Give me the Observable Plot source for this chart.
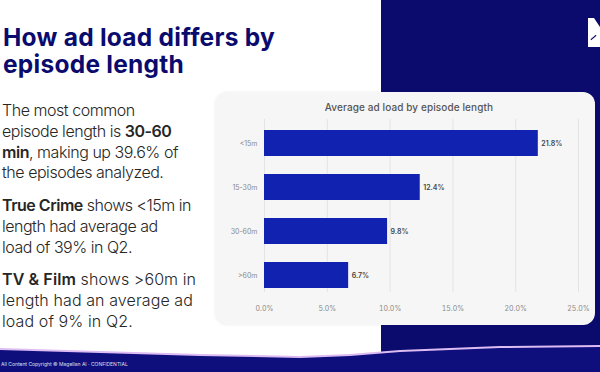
<!DOCTYPE html>
<html><head><meta charset="utf-8">
<script src="https://cdn.jsdelivr.net/npm/d3@7"></script>
<script src="https://cdn.jsdelivr.net/npm/@observablehq/plot@0.6"></script>
<style>
html,body{margin:0;padding:0;background:#fff;}
#page{position:relative;width:600px;height:372px;overflow:hidden;background:#fff;font-family:Inter,"Open Sans",sans-serif;}
.abs{position:absolute;}
#navy{left:381px;top:0;width:219px;height:362px;background:#0b0b6d;}
#logoA{left:588px;top:18px;width:6px;height:29px;background:#fff;}
#logoB{left:588px;top:18px;width:12px;height:29px;background:#fff;clip-path:polygon(0 0,6px 0,12px 9px,12px 29px,4px 29px,4px 8px);}
#logoC{left:590px;top:37px;width:7px;height:1px;background:#0b0b6d;transform:rotate(-40deg);}
#band2{left:0;top:330px;width:600px;height:42px;background:#dcbcf2;clip-path:polygon(0 18px,100px 21px,200px 24px,300px 26px,350px 24px,400px 20px,500px 16px,600px 15px,600px 42px,0 42px);}
#band{left:0;top:330px;width:600px;height:42px;background:#0e0f7c;clip-path:polygon(0 20px,100px 23px,200px 26px,300px 28px,350px 26px,400px 22px,500px 18px,600px 17px,600px 42px,0 42px);}
#foot{left:1px;top:361px;color:#fff;font-size:5px;white-space:nowrap;opacity:.85;}
#card{left:215px;top:92px;width:380px;height:233px;background:#f6f6f6;border-radius:12px;box-shadow:0 0 3px rgba(0,0,0,.06);}
#ctitle{left:215px;top:101px;width:388px;text-align:center;color:#555;font-size:10px;font-weight:500;white-space:nowrap;letter-spacing:0.1px;}
#chart{left:215px;top:92px;}
.ln{position:absolute;left:0;white-space:nowrap;line-height:1;}
.bl{display:inline-block;width:0;height:0;}
.blk{position:absolute;left:2px;top:0;}
b{font-weight:600;}
</style></head>
<body>
<div id="page">
  <div id="navy" class="abs"></div>
  <div id="logoA" class="abs"></div>
  <div id="logoB" class="abs"></div>
  <div id="logoC" class="abs"></div>
  <div id="band2" class="abs"></div>
  <div id="band" class="abs"></div>
  <div id="foot" class="abs">All Content Copyright © Magellan AI · CONFIDENTIAL</div>
  <div id="card" class="abs"></div>
  <div id="ctitle" class="abs">Average ad load by episode length</div>
  <div id="chart" class="abs"></div>
</div>
<script>
const categories = ["<15m", "15-30m", "30-60m", ">60m"];
const values = [21.8, 12.4, 9.8, 6.7];
const xTicks = [0, 5, 10, 15, 20, 25];
const fmt = d => d.toFixed(1) + "%";
const data = categories.map((c, i) => ({cat: c, value: values[i]}));

const chart = Plot.plot({
  width: 380, height: 233,
  marginLeft: 49, marginRight: 17, marginTop: 27, marginBottom: 33,
  style: {background: "transparent", fontFamily: "Inter, sans-serif", fontSize: "7px", color: "#8a8a8a", overflow: "visible"},
  x: {domain: [0, 25], ticks: xTicks, tickFormat: fmt},
  y: {domain: categories, range: [19, 215], padding: 0.41},
  marks: [
    Plot.gridX(xTicks, {stroke: "#e4e4e4", strokeOpacity: 1}),
    Plot.axisX(xTicks, {tickSize: 0, tickPadding: 14, tickFormat: fmt, label: null}),
    Plot.axisY({tickSize: 0, tickPadding: 7, label: null}),
    Plot.barX(data, {x: "value", y: "cat", fill: "#1222b0"}),
    Plot.text(data, {x: "value", y: "cat", text: d => fmt(d.value), textAnchor: "start", dx: 3, fill: "#444", fontWeight: 600})
  ]
});
document.getElementById("chart").appendChild(chart);

// Text blocks: fixed font size, width matched with letter-spacing
const blocks = [
  {lines: ["How ad load differs by", "episode length"], baselines: [46, 73], ref: 0, w: 272, style: "color:#0b0b6e;font-weight:700;font-size:24.5px;left:3px"},
  {lines: ["The most common", "episode length is <b>30-60</b>", "<b>min</b>, making up 39.6% of", "the episodes analyzed."], baselines: [116, 137, 157.5, 178], ref: 2, w: 176, style: "color:#262626;font-weight:300;font-size:16px"},
  {lines: ["<b>True Crime</b> shows &lt;15m in", "length had average ad", "load of 39% in Q2."], baselines: [210.7, 231.7, 252.7], ref: 0, w: 189, style: "color:#262626;font-weight:300;font-size:16px"},
  {lines: ["<b>TV &amp; Film</b> shows &gt;60m in", "length had an average ad", "load of 9% in Q2."], baselines: [285, 306, 327], ref: 1, w: 191, style: "color:#262626;font-weight:300;font-size:16px"}
];
const page = document.getElementById("page");
for (const b of blocks) {
  const el = document.createElement("div");
  el.className = "blk";
  el.style.cssText += b.style;
  const spans = b.lines.map(t => {
    const s = document.createElement("div");
    s.className = "ln";
    s.innerHTML = t + '<span class="bl"></span>';
    el.appendChild(s);
    return s;
  });
  page.appendChild(el);
  const ref = spans[b.ref];
  const n = ref.textContent.length;
  let ls = 0;
  for (let k = 0; k < 3; k++) {
    const w = ref.getBoundingClientRect().width;
    ls += (b.w - w) / n;
    el.style.letterSpacing = ls + "px";
  }
  spans.forEach((s, i) => {
    const r = s.getBoundingClientRect();
    const bl = s.querySelector(".bl").getBoundingClientRect().bottom;
    s.style.top = (b.baselines[i] - (bl - r.top)) + "px";
  });
}
</script>
</body></html>
